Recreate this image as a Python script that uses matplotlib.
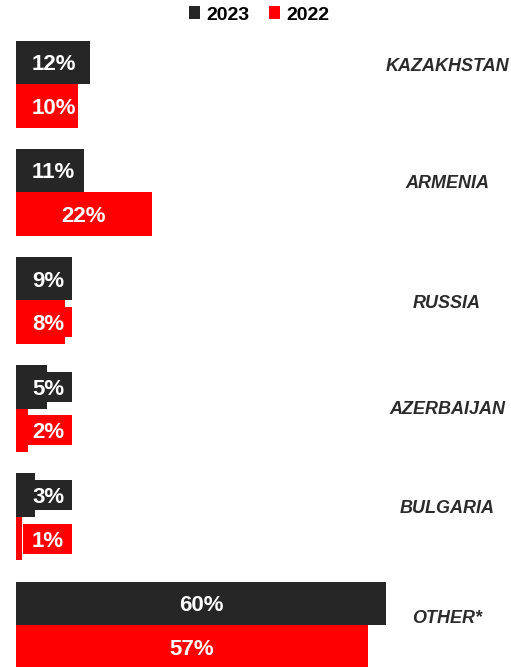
import matplotlib
matplotlib.use("Agg")
import matplotlib.pyplot as plt
from matplotlib.patches import Patch, Rectangle

# --- data ----------------------------------------------------------------

COUNTRIES = ["KAZAKHSTAN", "ARMENIA", "RUSSIA", "AZERBAIJAN", "BULGARIA", "OTHER*"]
SHARE_2023 = [12, 11, 9, 5, 3, 60]
SHARE_2022 = [10, 22, 8, 2, 1, 57]

# --- style ---------------------------------------------------------------

DARK = "#262626"
RED = "#ff0000"
LABEL_COLOR = "#2b2b2b"
W, H = 511, 667
DPI = 100

PX_PER_PCT = 6.17          # horizontal scale
LEFT_PX = 16
GROUP_TOP_PX = 84          # centre of first group
GROUP_PITCH_PX = 108.2
BAR_H = 43.5 / GROUP_PITCH_PX
# vertical nudge of country names, in pixels
NAME_SHIFT = [-19.5, -11, 1.5, -1.5, -10, -8.5]

plt.rcParams["font.family"] = ["Liberation Sans", "DejaVu Sans"]

fig = plt.figure(figsize=(W / DPI, H / DPI), dpi=DPI)
ax = fig.add_axes([LEFT_PX / W, 0, 1 - LEFT_PX / W, 1])
ax.set_xlim(0, (W - LEFT_PX) / PX_PER_PCT)
ax.set_ylim((H - GROUP_TOP_PX) / GROUP_PITCH_PX, -GROUP_TOP_PX / GROUP_PITCH_PX)
ax.axis("off")

small_left = (32 - LEFT_PX) / PX_PER_PCT
box_x0 = (23 - LEFT_PX) / PX_PER_PCT
box_x1 = (72 - LEFT_PX) / PX_PER_PCT
box_h = 30 / GROUP_PITCH_PX


def draw_bar(y, value, color):
    ax.barh(y, value, height=BAR_H, color=color, linewidth=0, zorder=2)
    if value < 9:
        # short bars get a tab so the label still fits
        ax.add_patch(Rectangle((box_x0, y - box_h / 2), box_x1 - box_x0, box_h,
                               facecolor=color, linewidth=0, zorder=3))
    if value < 14:
        x, ha = small_left, "left"
    else:
        x, ha = value / 2, "center"
    ax.text(x, y, f"{value}%", ha=ha, va="center_baseline", color="white",
            fontsize=16, fontweight="bold", zorder=4)


for i, name in enumerate(COUNTRIES):
    draw_bar(i - BAR_H / 2, SHARE_2023[i], DARK)
    draw_bar(i + BAR_H / 2, SHARE_2022[i], RED)
    ax.text((447 - LEFT_PX) / PX_PER_PCT, i + NAME_SHIFT[i] / GROUP_PITCH_PX, name,
            ha="center", va="center_baseline", color=LABEL_COLOR, fontsize=13,
            fontweight="bold", fontstyle="italic", clip_on=False)

handles = [Patch(facecolor=DARK, label="2023"), Patch(facecolor=RED, label="2022")]
fig.legend(handles=handles, loc="center", bbox_to_anchor=(259 / W, 1 - 15 / H),
           ncol=2, frameon=False, handlelength=0.6, handleheight=0.6,
           handletextpad=0.3, columnspacing=1.0, borderpad=0,
           prop={"weight": "bold", "size": 14})

fig.savefig("out.png", dpi=DPI)
